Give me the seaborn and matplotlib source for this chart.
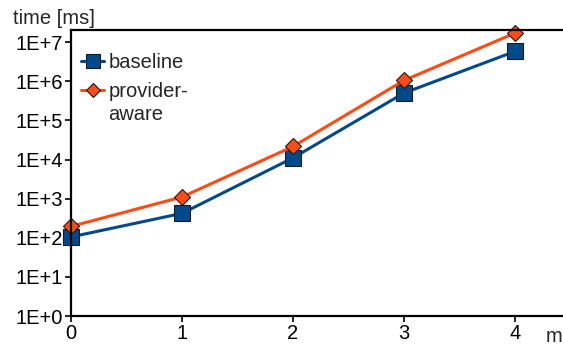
import numpy as np
import pandas as pd
import matplotlib
matplotlib.use("Agg")
import matplotlib.pyplot as plt
import seaborn as sns
from matplotlib.ticker import FixedLocator, FuncFormatter, NullLocator

# ---- data ----
x_values = [0, 1, 2, 3, 4]
baseline = [105, 420, 11000, 500000, 5.8e6]
provider_aware = [195, 1100, 21500, 1.05e6, 1.7e7]
series_names = ["baseline", "provider-"]
series_name_cont = "aware"
y_tick_exps = [0, 1, 2, 3, 4, 5, 6, 7]
x_ticks = [0, 1, 2, 3, 4]

df = pd.DataFrame({
    "x": x_values * 2,
    "time": baseline + provider_aware,
    "series": [series_names[0]] * len(x_values) + [series_names[1]] * len(x_values),
})

sns.set_theme(style="white")
plt.rcParams["font.family"] = ["Liberation Sans", "DejaVu Sans"]

BLUE = "#004a8c"
ORANGE = "#ff4b14"
FS = 14.5

fig = plt.figure(figsize=(5.63, 3.47), dpi=100)
ax = fig.add_axes([71 / 563, 31 / 347, (563 - 71) / 563, (316 - 30) / 347])

sns.lineplot(
    data=df, x="x", y="time", hue="series", style="series",
    palette={series_names[0]: BLUE, series_names[1]: ORANGE},
    markers={series_names[0]: "s", series_names[1]: "D"},
    dashes=False, linewidth=2.2, ax=ax,
    markeredgecolor="#1a1a1a", markeredgewidth=0.8,
)
for line in ax.get_lines():
    line.set_clip_on(False)
    if line.get_marker() == "s":
        line.set_markersize(11)
    elif line.get_marker() == "D":
        line.set_markersize(8)

ax.set_yscale("log")
ax.set_xlim(0, (563 - 71) / 111.0)
ax.set_ylim(1, 10 ** 7.31)
ax.yaxis.set_major_locator(FixedLocator([10.0 ** e for e in y_tick_exps]))
ax.yaxis.set_minor_locator(NullLocator())
ax.yaxis.set_major_formatter(FuncFormatter(lambda v, p: "1E+%d" % int(round(np.log10(v)))))
ax.set_xticks(x_ticks)
ax.set_xticklabels([str(t) for t in x_ticks])

ax.set_xlabel("")
ax.set_ylabel("")
for s in ["left", "bottom", "top"]:
    ax.spines[s].set_visible(True)
    ax.spines[s].set_color("black")
    ax.spines[s].set_linewidth(1.6)
ax.spines["right"].set_visible(False)
ax.tick_params(axis="both", which="major", direction="out", length=4, width=1.2,
               colors="black", labelsize=FS, pad=2, left=True, bottom=True)
ax.grid(False)

leg = ax.legend(loc="upper left", bbox_to_anchor=(0.004, 0.946), frameon=False,
                fontsize=FS, handlelength=1.15, handletextpad=0.2,
                labelspacing=0.45, borderaxespad=0)
for h in leg.get_lines():
    if h.get_marker() == "s":
        h.set_markersize(10)
    elif h.get_marker() == "D":
        h.set_markersize(7)

# continuation line of the second legend label, placed under "provider-"
fig.canvas.draw()
t2 = leg.get_texts()[1]
bb = t2.get_window_extent(renderer=fig.canvas.get_renderer())
inv = fig.transFigure.inverted()
x0, y0 = inv.transform((bb.x0, bb.y0))
fig.text(x0, y0 - 4 / 347, series_name_cont, fontsize=FS, ha="left", va="top")

fig.text(13 / 563, 1 - 18 / 347, "time [ms]", fontsize=FS, va="center", ha="left")
fig.text(546 / 563, 1 - 337 / 347, "m", fontsize=FS, va="center", ha="left")

fig.savefig("out.png", dpi=100)
